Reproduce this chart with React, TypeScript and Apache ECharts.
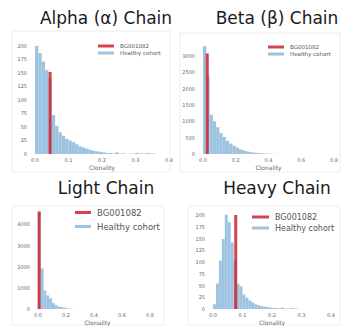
import React, { useEffect, useRef } from "react";
import * as echarts from "echarts";

// Histogram counts (Healthy cohort), bin widths start at 0
const alphaBin = 0.01;
const alphaCounts = [200, 187, 171, 155, 140, 72, 52, 40, 34, 28, 25, 22, 18, 14, 12, 10, 8, 6, 5, 4, 3, 2, 2, 1, 3, 1, 1, 0, 1, 1, 2, 1, 1, 2, 1, 1];
const betaBin = 0.02;
const betaCounts = [3300, 2400, 1200, 1000, 820, 640, 520, 400, 320, 250, 190, 140, 110, 80, 60, 45, 35, 25, 18, 12, 8, 5, 4, 3];
const lightBin = 0.02;
const lightCounts = [4600, 1920, 870, 640, 500, 280, 180, 110, 100, 60, 30, 15, 8];
const heavyBin = 0.01;
const heavyCounts = [10, 54, 103, 149, 201, 185, 142, 103, 54, 48, 31, 24, 18, 14, 10, 8, 6, 5, 4, 3, 2, 2, 1, 3, 1, 1, 2, 1, 1];

// Patient (BG001082) clonality and line height per panel: alpha, beta, light, heavy
const patientX = [0.045, 0.026, 0.008, 0.077];
const patientH = [152, 3080, 4620, 200];

const titles = ["Alpha (\u03b1) Chain", "Beta (\u03b2) Chain", "Light Chain", "Heavy Chain"];
const xTickInterval = [0.1, 0.2, 0.2, 0.1];
const yTickInterval = [25, 500, 1000, 25];

const RED = "rgba(205,35,45,0.85)";
const BLUE = "rgba(140,185,220,0.85)";

function bins(counts: number[], w: number) {
  return counts.map((c, i) => [+(i * w).toFixed(4), +((i + 1) * w).toFixed(4), c]);
}

export default function App() {
  const ref = useRef<HTMLDivElement>(null);
  useEffect(() => {
    if (!ref.current) return;
    const chart = echarts.init(ref.current, undefined, { renderer: "svg" });
    const hist = [bins(alphaCounts, alphaBin), bins(betaCounts, betaBin), bins(lightCounts, lightBin), bins(heavyCounts, heavyBin)];
    const grids = [
      { left: 35, top: 40, width: 134, height: 114 },
      { left: 203, top: 40, width: 133, height: 114 },
      { left: 38, top: 207, width: 119, height: 109 },
      { left: 213, top: 208, width: 118, height: 109 },
    ];
    const xMax = [0.4, 0.8, 0.85, 0.4];
    const yMax = [211, 3490, 4828, 215];
    const tickFont = { fontSize: 5, color: "#666", fontFamily: "DejaVu Sans" };
    const xAxis = grids.map((_, i) => ({
      type: "value",
      gridIndex: i,
      min: 0,
      max: xMax[i],
      interval: xTickInterval[i],
      axisLine: { show: false },
      axisTick: { show: false },
      splitLine: { show: false },
      axisLabel: { ...tickFont, margin: 3, showMaxLabel: i === 2 ? false : true, formatter: (v: number) => v.toFixed(1) },
      name: "Clonality",
      nameLocation: "middle",
      nameGap: 10,
      nameTextStyle: { fontSize: 6, color: "#666", fontFamily: "DejaVu Sans" },
    }));
    const yAxis = grids.map((_, i) => ({
      type: "value",
      gridIndex: i,
      min: 0,
      max: yMax[i],
      interval: yTickInterval[i],
      axisLine: { show: false },
      axisTick: { show: false },
      splitLine: { show: false },
      axisLabel: { ...tickFont, margin: 8, showMaxLabel: false, formatter: (v: number) => String(v) },
    }));
    const series: any[] = [];
    hist.forEach((data, i) => {
      series.push({
        type: "custom",
        name: "Healthy cohort",
        xAxisIndex: i,
        yAxisIndex: i,
        itemStyle: { color: BLUE },
        encode: { x: [0, 1], y: 2 },
        data,
        renderItem: (params: any, api: any) => {
          const p0 = api.coord([api.value(0), api.value(2)]);
          const p1 = api.coord([api.value(1), 0]);
          return {
            type: "rect",
            shape: { x: p0[0], y: p0[1], width: p1[0] - p0[0], height: p1[1] - p0[1] },
            style: { fill: BLUE },
          };
        },
      });
      series.push({
        type: "line",
        name: "BG001082",
        xAxisIndex: i,
        yAxisIndex: i,
        showSymbol: false,
        symbol: "none",
        itemStyle: { color: RED },
        lineStyle: { color: RED, width: 3 },
        data: [[patientX[i], 0], [patientX[i], patientH[i]]],
        z: 5,
      });
    });
    const legendPos = [
      { left: 98, top: 43, font: 5.5, gap: 1, w: 16 },
      { left: 268, top: 44, font: 5.5, gap: 1, w: 16 },
      { left: 75, top: 208, font: 8.5, gap: 5, w: 16 },
      { left: 252, top: 213, font: 8, gap: 3, w: 17 },
    ];
    const legend = legendPos.map((l) => ({
      orient: "vertical",
      left: l.left,
      top: l.top,
      itemWidth: l.w,
      itemHeight: 3,
      itemGap: l.gap,
      padding: 0,
      textStyle: { fontSize: l.font, color: "#555", fontFamily: "DejaVu Sans", padding: [0, 0, 0, 1] },
      data: [
        { name: "BG001082", icon: "rect", itemStyle: { color: RED } },
        { name: "Healthy cohort", icon: "rect", itemStyle: { color: BLUE } },
      ],
    }));
    const titleCenters = [[106, 9], [277, 9], [106, 179], [277, 179]];
    const title = titles.map((t, i) => ({
      text: t,
      left: titleCenters[i][0],
      top: titleCenters[i][1],
      textAlign: "center",
      padding: 0,
      textStyle: { fontSize: 17, fontWeight: "normal", color: "#1a1a1a", fontFamily: "DejaVu Sans" },
    }));
    const boxes = [
      [12, 31, 158, 141],
      [180, 33, 160, 139],
      [12, 206, 152, 119],
      [188, 206, 152, 119],
    ];
    chart.setOption({
      animation: false,
      backgroundColor: "#fff",
      title,
      legend,
      grid: grids,
      xAxis,
      yAxis,
      series,
      graphic: boxes.map((b) => ({
        type: "rect",
        shape: { x: b[0], y: b[1], width: b[2], height: b[3] },
        style: { fill: "none", stroke: "#eeeeee", lineWidth: 1 },
        silent: true,
        z: -10,
      })),
    });
    return () => chart.dispose();
  }, []);
  return <div ref={ref} style={{ position: "fixed", left: 0, top: 0, width: 341, height: 326 }} />;
}
